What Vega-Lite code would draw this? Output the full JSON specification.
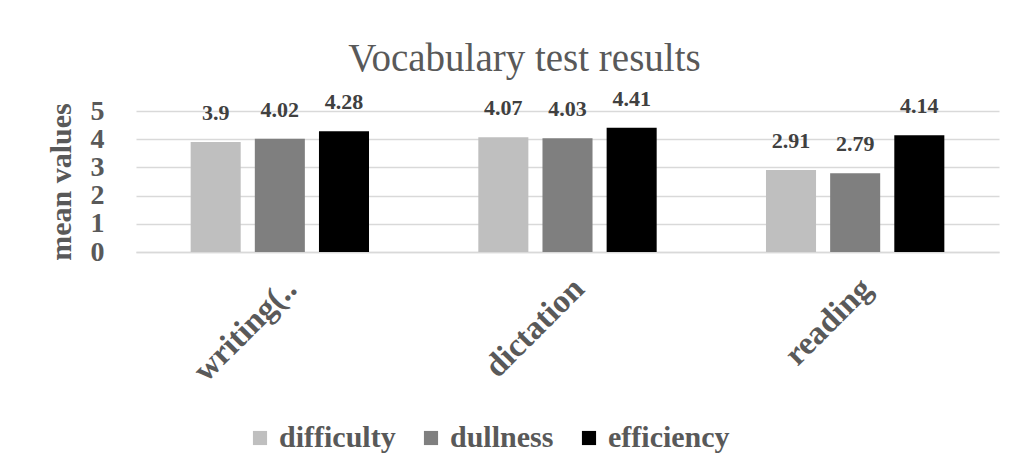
{
  "$schema": "https://vega.github.io/schema/vega-lite/v6.json",
  "width": 863,
  "height": 141,
  "padding": {"left": 46, "top": 39, "right": 28, "bottom": 10},
  "background": "white",
  "config": {"font": "Liberation Serif", "view": {"stroke": null}, "text": {"font": "Liberation Serif"}, "legend": {"labelFont": "Liberation Serif"}, "axis": {"labelFont": "Liberation Serif", "titleFont": "Liberation Serif"}},
  "title": {"text": "Vocabulary test results", "font": "Liberation Serif", "fontSize": 39, "fontWeight": "normal", "color": "#595959", "offset": 9, "dx": -43},
  "data": {"values": [
    {"category": "writing(..", "series": "difficulty", "value": 3.9},
    {"category": "writing(..", "series": "dullness", "value": 4.02},
    {"category": "writing(..", "series": "efficiency", "value": 4.28},
    {"category": "dictation", "series": "difficulty", "value": 4.07},
    {"category": "dictation", "series": "dullness", "value": 4.03},
    {"category": "dictation", "series": "efficiency", "value": 4.41},
    {"category": "reading", "series": "difficulty", "value": 2.91},
    {"category": "reading", "series": "dullness", "value": 2.79},
    {"category": "reading", "series": "efficiency", "value": 4.14}
  ]},
  "encoding": {
    "x": {"field": "category", "type": "nominal", "sort": ["writing(..", "dictation", "reading"],
      "scale": {"paddingInner": 0.38, "paddingOuter": 0.19},
      "axis": {"title": null, "labelAngle": -45, "labelFont": "Liberation Serif", "labelFontSize": 33, "labelFontWeight": "bold", "labelColor": "#595959", "domainColor": "#d9d9d9", "domainWidth": 1.5, "ticks": false, "labelPadding": 20, "labelDx": 16, "labelLimit": 300}},
    "xOffset": {"field": "series", "type": "nominal", "sort": ["difficulty", "dullness", "efficiency"], "scale": {"paddingInner": 0.22}},
    "y": {"field": "value", "type": "quantitative", "scale": {"domain": [0, 5]},
      "axis": {"values": [0, 1, 2, 3, 4, 5], "title": "mean values", "titleFont": "Liberation Serif", "titleFontSize": 30, "titleFontWeight": "bold", "titleColor": "#595959", "titlePadding": 14,
        "labelFont": "Liberation Serif", "labelFontSize": 28, "labelFontWeight": "bold", "labelColor": "#595959", "labelPadding": 32, "labelOverlap": false, "labelFlush": false,
        "domain": false, "ticks": false, "gridColor": "#d9d9d9", "gridWidth": 1.5}}
  },
  "layer": [
    {"mark": {"type": "bar"},
     "encoding": {"color": {"field": "series", "type": "nominal", "sort": ["difficulty", "dullness", "efficiency"],
       "scale": {"domain": ["difficulty", "dullness", "efficiency"], "range": ["#bfbfbf", "#7f7f7f", "#000000"]},
       "legend": {"orient": "none", "legendX": 109, "legendY": 312, "direction": "horizontal", "title": null, "symbolType": "square", "symbolSize": 200, "symbolStrokeWidth": 0,
         "labelFont": "Liberation Serif", "labelFontSize": 30, "labelFontWeight": "bold", "labelColor": "#595959", "columnPadding": 20, "labelOffset": 4}}}},
    {"mark": {"type": "text", "dy": -17, "baseline": "bottom", "font": "Liberation Serif", "fontSize": 22, "fontWeight": "bold", "color": "#404040"},
     "encoding": {"text": {"field": "value", "type": "quantitative"}}}
  ]
}
